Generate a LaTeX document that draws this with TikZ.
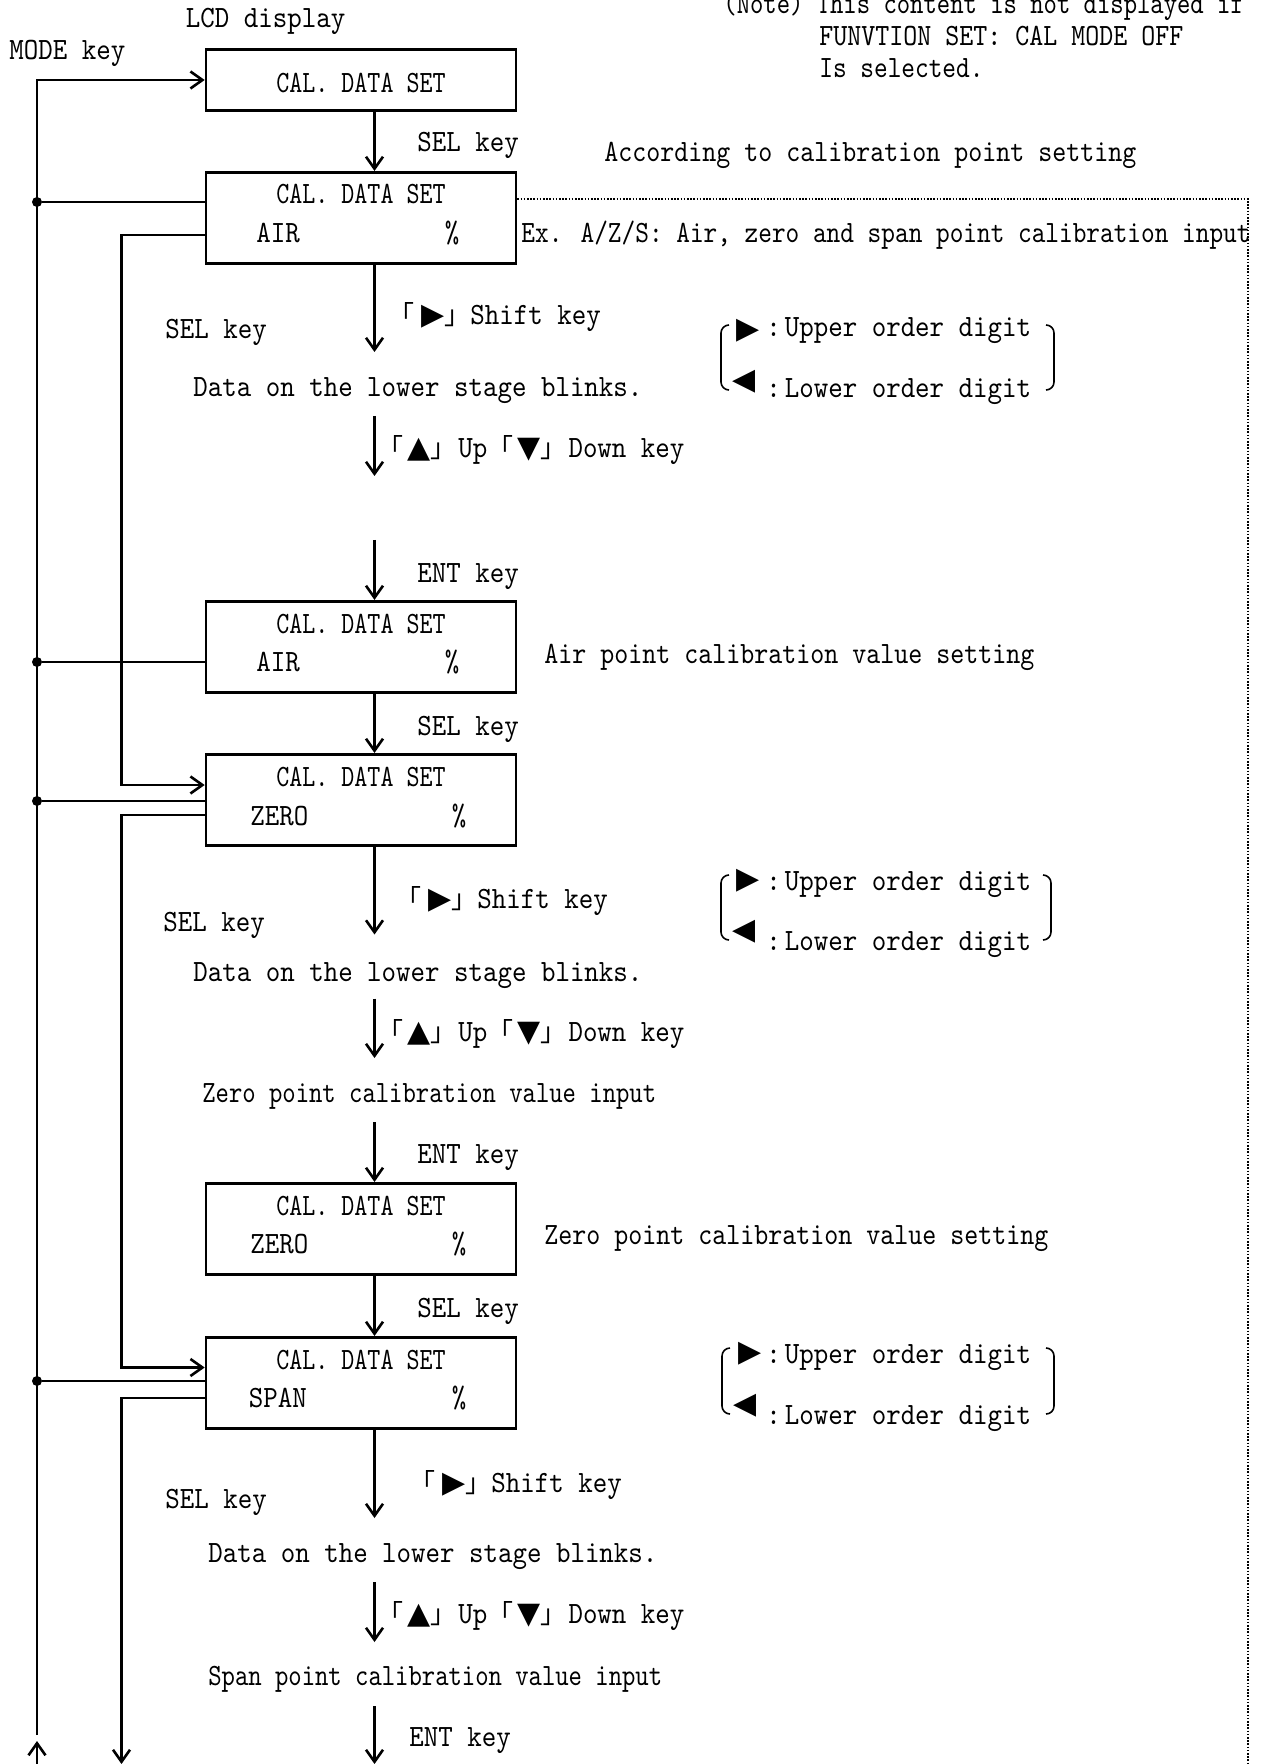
\documentclass[tikz,border=0pt]{standalone}
\usepackage{fontspec}
\usepackage{tikz}
\usetikzlibrary{arrows.meta, positioning, calc}

\newfontfamily\lcdfont{lmmono10-regular.otf}[FakeStretch=0.89]
\newfontfamily\lcdslim{lmmono10-regular.otf}[FakeStretch=0.86]
\newfontfamily\lcdnarrow{lmmono10-regular.otf}[FakeStretch=0.80]
\newfontfamily\cjkfont{Noto Sans CJK JP}
\newfontfamily\symfont{DejaVu Sans}

\newcommand{\lcdtype}{\lcdfont\fontsize{15.5}{18}\selectfont}
\newcommand{\slimtype}{\lcdslim\fontsize{15.5}{18}\selectfont}
\newcommand{\narrowtype}{\lcdnarrow\fontsize{15.5}{18}\selectfont}
\newcommand{\kopen}{{\cjkfont\fontsize{13}{15}\selectfont 「}}
\newcommand{\kclose}{{\cjkfont\fontsize{13}{15}\selectfont 」}}
\newcommand{\rtri}{{\symfont\fontsize{15}{17}\selectfont ▶}}
\newcommand{\ltri}{{\symfont\fontsize{15}{17}\selectfont ◀}}
\newcommand{\utri}{{\symfont\fontsize{15}{17}\selectfont ▲}}
\newcommand{\dtri}{{\symfont\fontsize{15}{17}\selectfont ▼}}

\tikzset{
    % LCD frames, drawn empty; their lines are set on top
    lcd box/.style={
        rectangle,
        draw,
        line width=1.3pt,
        minimum width=155pt,
        minimum height=45.75pt,
        inner sep=0pt
    },
    lcd line/.style={
        anchor=base,
        inner sep=0pt,
        font=\narrowtype
    },
    lcd item/.style={
        anchor=base west,
        inner sep=0pt,
        font=\lcdtype
    },
    plain text/.style={
        anchor=base west,
        inner sep=0pt,
        font=\lcdtype
    },
    tri sign/.style={
        anchor=center,
        inner sep=0pt
    },
    flow arrow/.style={
        -{Straight Barb[length=6pt,width=8.5pt]},
        line width=1.3pt
    },
    bus line/.style={
        line width=1.3pt
    },
    junction/.style={
        circle,
        fill,
        inner sep=0pt,
        minimum size=5pt
    },
    bracket line/.style={
        line width=0.8pt
    },
    option edge/.style={
        line width=0.8pt,
        dash pattern=on 0.8pt off 0.8pt
    }
}

\begin{document}
\begin{tikzpicture}[x=0.5pt, y=-0.5pt]
        \useasboundingbox (0,0) rectangle (1264,1764);

        % Header
        \node[plain text] (lcd head) at (185.5,28) {LCD display};
        \node[plain text] (mode head) at (9,60) {MODE key};
        \node[plain text, font=\narrowtype\addfontfeature{FakeStretch=0.82}] (note1) at (723,14) {(Note) This content is not displayed if};
        \node[plain text, font=\slimtype] (note2) at (819,46) {FUNVTION SET: CAL MODE OFF};
        \node[plain text, font=\narrowtype\addfontfeature{FakeStretch=0.84}] (note3) at (819,78) {Is selected.};
        \node[plain text, font=\slimtype] (point head) at (604,162) {According to calibration point setting};
        \node[plain text, font=\narrowtype\addfontfeature{FakeStretch=0.84}] (point ex) at (521,243) {Ex. A/Z/S: Air, zero and span point calibration input};

        % LCD frames
        \node[lcd box, minimum height=30.5pt] (lcd1) at (361,80) {};
        \node[lcd box] (lcd2) at (361,218) {};
        \node[lcd box] (lcd3) at (361,647) {};
        \node[lcd box] (lcd4) at (361,800) {};
        \node[lcd box] (lcd5) at (361,1229) {};
        \node[lcd box] (lcd6) at (361,1383) {};

        % LCD contents
        \node[lcd line] (lcd1 title) at (361,93) {CAL. DATA SET};
        \node[lcd line] (lcd2 title) at (361,204) {CAL. DATA SET};
        \node[lcd item] (lcd2 item) at (256,243) {AIR};
        \node[lcd item, anchor=base] (lcd2 unit) at (452,243) {\%};
        \node[lcd line] (lcd3 title) at (361,633) {CAL. DATA SET};
        \node[lcd item] (lcd3 item) at (256,671) {AIR};
        \node[lcd item, anchor=base] (lcd3 unit) at (452,671) {\%};
        \node[lcd line] (lcd4 title) at (361,786) {CAL. DATA SET};
        \node[lcd item] (lcd4 item) at (250,825) {ZERO};
        \node[lcd item, anchor=base] (lcd4 unit) at (459,825) {\%};
        \node[lcd line] (lcd5 title) at (361,1215) {CAL. DATA SET};
        \node[lcd item] (lcd5 item) at (250,1253) {ZERO};
        \node[lcd item, anchor=base] (lcd5 unit) at (459,1253) {\%};
        \node[lcd line] (lcd6 title) at (361,1369) {CAL. DATA SET};
        \node[lcd item] (lcd6 item) at (248.5,1407) {SPAN};
        \node[lcd item, anchor=base] (lcd6 unit) at (459,1407) {\%};

        % Key labels along the stem
        \node[plain text] (sel1) at (417,152) {SEL key};
        \node[plain text] (air shift) at (388,325) {\kopen\hspace{3.5pt}\rtri\kclose Shift key};
        \node[plain text] (air sel) at (165,339) {SEL key};
        \node[plain text] (air blink) at (193,397) {Data on the lower stage blinks.};
        \node[plain text] (air updown) at (377,458) {\kopen\hspace{2pt}\utri\kclose\hspace{1pt}Up\kopen\hspace{2pt}\dtri\kclose\hspace{1pt}Down key};
        \node[plain text] (air ent) at (417,582) {ENT key};
        \node[plain text, font=\slimtype] (air set) at (544,663) {Air point calibration value setting};
        \node[plain text] (sel2) at (417,735) {SEL key};
        \node[plain text] (zero shift) at (395,908) {\kopen\hspace{3.5pt}\rtri\kclose Shift key};
        \node[plain text] (zero sel) at (163,931) {SEL key};
        \node[plain text] (zero blink) at (193,981) {Data on the lower stage blinks.};
        \node[plain text] (zero updown) at (377,1041) {\kopen\hspace{2pt}\utri\kclose\hspace{1pt}Up\kopen\hspace{2pt}\dtri\kclose\hspace{1pt}Down key};
        \node[plain text, font=\narrowtype\addfontfeature{FakeStretch=0.82}] (zero input) at (202,1102) {Zero point calibration value input};
        \node[plain text] (zero ent) at (417,1163) {ENT key};
        \node[plain text, font=\slimtype] (zero set) at (544,1244) {Zero point calibration value setting};
        \node[plain text] (sel3) at (417,1317) {SEL key};
        \node[plain text] (span shift) at (409,1492) {\kopen\hspace{3.5pt}\rtri\kclose Shift key};
        \node[plain text] (span sel) at (165,1508) {SEL key};
        \node[plain text] (span blink) at (208,1562) {Data on the lower stage blinks.};
        \node[plain text] (span updown) at (377,1623) {\kopen\hspace{2pt}\utri\kclose\hspace{1pt}Up\kopen\hspace{2pt}\dtri\kclose\hspace{1pt}Down key};
        \node[plain text, font=\narrowtype\addfontfeature{FakeStretch=0.82}] (span input) at (208,1685) {Span point calibration value input};
        \node[plain text] (span ent) at (409,1746) {ENT key};

        % Digit legends
        \node[tri sign] (air up tri) at (748,331) {\rtri};
        \node[plain text] (air up) at (766,337) {:\hspace{2pt}Upper order digit};
        \node[tri sign] (air low tri) at (744,382) {\ltri};
        \node[plain text] (air low) at (766,398) {:\hspace{2pt}Lower order digit};
        \draw[bracket line] (729,325) to[out=180,in=90] (721,333) -- (721,382) to[out=-90,in=180] (729,390);
        \draw[bracket line] (1046,325) to[out=0,in=90] (1054,333) -- (1054,382) to[out=-90,in=0] (1046,390);

        \node[tri sign] (zero up tri) at (748,881) {\rtri};
        \node[plain text] (zero up) at (766,890) {:\hspace{2pt}Upper order digit};
        \node[tri sign] (zero low tri) at (744,932) {\ltri};
        \node[plain text] (zero low) at (766,950) {:\hspace{2pt}Lower order digit};
        \draw[bracket line] (729,875) to[out=180,in=90] (721,883) -- (721,932) to[out=-90,in=180] (729,940);
        \draw[bracket line] (1043,875) to[out=0,in=90] (1051,883) -- (1051,932) to[out=-90,in=0] (1043,940);

        \node[tri sign] (span up tri) at (750,1354) {\rtri};
        \node[plain text] (span up) at (766,1363) {:\hspace{2pt}Upper order digit};
        \node[tri sign] (span low tri) at (745,1406) {\ltri};
        \node[plain text] (span low) at (766,1424) {:\hspace{2pt}Lower order digit};
        \draw[bracket line] (730,1348) to[out=180,in=90] (722,1356) -- (722,1406) to[out=-90,in=180] (730,1414);
        \draw[bracket line] (1046,1348) to[out=0,in=90] (1054,1356) -- (1054,1406) to[out=-90,in=0] (1046,1414);

        % Stem arrows
        \coordinate (stem) at (374.5,0);
        \coordinate (air shift end) at (374.5,352);
        \coordinate (air ud start) at (374.5,416);
        \coordinate (air ud end) at (374.5,476);
        \coordinate (air ent start) at (374.5,540);
        \coordinate (zero shift end) at (374.5,934.5);
        \coordinate (zero ud start) at (374.5,998.6);
        \coordinate (zero ud end) at (374.5,1058);
        \coordinate (zero ent start) at (374.5,1122);
        \coordinate (span shift end) at (374.5,1518);
        \coordinate (span ud start) at (374.5,1582);
        \coordinate (span ud end) at (374.5,1642);
        \coordinate (span ent start) at (374.5,1706);
        \coordinate (span ent end) at (374.5,1764);

        \draw[flow arrow] (lcd1.south -| stem) -- (lcd2.north -| stem);
        \draw[flow arrow] (lcd2.south -| stem) -- (air shift end);
        \draw[flow arrow] (air ud start) -- (air ud end);
        \draw[flow arrow] (air ent start) -- (lcd3.north -| stem);
        \draw[flow arrow] (lcd3.south -| stem) -- (lcd4.north -| stem);
        \draw[flow arrow] (lcd4.south -| stem) -- (zero shift end);
        \draw[flow arrow] (zero ud start) -- (zero ud end);
        \draw[flow arrow] (zero ent start) -- (lcd5.north -| stem);
        \draw[flow arrow] (lcd5.south -| stem) -- (lcd6.north -| stem);
        \draw[flow arrow] (lcd6.south -| stem) -- (span shift end);
        \draw[flow arrow] (span ud start) -- (span ud end);
        \draw[flow arrow] (span ent start) -- (span ent end);

        % MODE key return bus
        \coordinate (mode foot) at (37,1735);
        \coordinate (mode entry) at (37,1764);
        \coordinate (mode tip) at (37,1741);
        \draw[flow arrow] (mode foot) |- (lcd1.west);
        \draw[flow arrow] (mode entry) -- (mode tip);
        \node[junction] (tap2) at (37,202) {};
        \node[junction] (tap3) at (37,662) {};
        \node[junction] (tap4) at (37,801) {};
        \node[junction] (tap6) at (37,1381) {};
        \draw[bus line] (tap2) -- (tap2 -| lcd2.west);
        \draw[bus line] (tap3) -- (tap3 -| lcd3.west);
        \draw[bus line] (tap4) -- (tap4 -| lcd4.west);
        \draw[bus line] (tap6) -- (tap6 -| lcd6.west);

        % SEL key skip bus
        \coordinate (skip) at (121.5,1764);
        \coordinate (air out) at ([yshift=-8.5pt]lcd2.west);
        \coordinate (zero in) at ([yshift=7.5pt]lcd4.west);
        \coordinate (zero out) at ([yshift=-7.5pt]lcd4.west);
        \coordinate (span in) at ([yshift=7.75pt]lcd6.west);
        \coordinate (span out) at ([yshift=-7.5pt]lcd6.west);
        \draw[flow arrow] (air out) -- (air out -| skip) |- (zero in);
        \draw[flow arrow] (zero out) -- (zero out -| skip) |- (span in);
        \draw[flow arrow] (span out) -- (span out -| skip) -- (skip);

        % Calibration point option edge
        \coordinate (option corner) at (1248,199);
        \coordinate (option end) at (1248,1764);
        \draw[option edge] ([yshift=9.5pt]lcd2.east) -- (option corner) -- (option end);
    \end{tikzpicture}
\end{document}
